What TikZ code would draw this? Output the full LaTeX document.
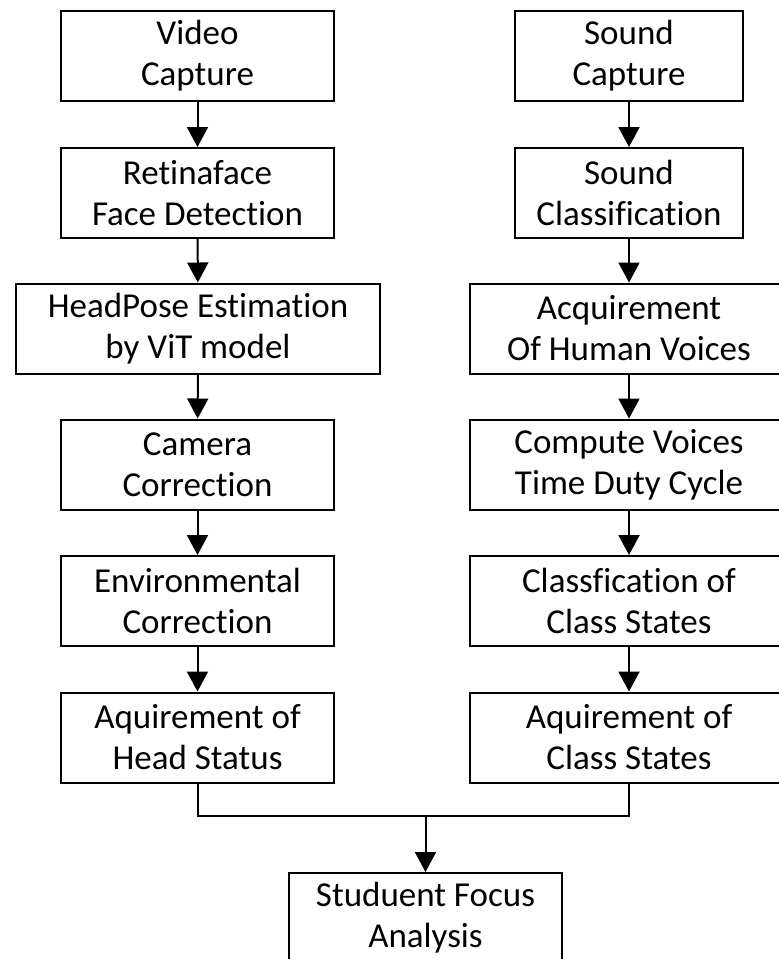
\documentclass[tikz,border=0pt]{standalone}
\usepackage{fontspec}
\setmainfont[Ligatures=NoCommon]{Carlito}
\usepackage{tikz}
\usetikzlibrary{arrows.meta,positioning}

\begin{document}
\begin{tikzpicture}[x=1pt,y=-1pt,line width=2pt,
  >={Triangle[length=20pt,width=21pt]},
  stage/.style={draw,align=center,font=\fontsize{35}{41}\selectfont,inner sep=0pt,minimum width=273pt,minimum height=90pt}
]
  \clip (0,0) rectangle (779,959);

  % video branch
  \node[stage] (video) at (197.5,56) {Video\\Capture};
  \node[stage] (face) at (197.5,193) {Retinaface\\Face Detection};
  \node[stage,minimum width=364pt] (pose) at (198,328.5) {HeadPose Estimation\\by ViT model};
  \node[stage] (camera) at (197.5,464.5) {Camera\\Correction};
  \node[stage] (env) at (197.5,601) {Environmental\\Correction};
  \node[stage] (head) at (197.5,737.5) {Aquirement of\\Head Status};

  % sound branch
  \node[stage,minimum width=228pt] (sound) at (629,56) {Sound\\Capture};
  \node[stage,minimum width=228pt] (soundcls) at (629,193) {Sound\\Classification};
  \node[stage,minimum width=318pt] (voices) at (629,328.5) {Acquirement\\Of Human Voices};
  \node[stage,minimum width=318pt] (duty) at (629,464.5) {Compute Voices\\Time Duty Cycle};
  \node[stage,minimum width=318pt] (states) at (629,601) {Classfication of\\Class States};
  \node[stage,minimum width=318pt] (classst) at (629,737.5) {Aquirement of\\Class States};

  \node[stage] (focus) at (425.5,918) {Studuent Focus\\Analysis};

  \draw[->] (video) -- (face);
  \draw[->] (face) -- (pose);
  \draw[->] (pose) -- (camera);
  \draw[->] (camera) -- (env);
  \draw[->] (env) -- (head);

  \draw[->] (sound) -- (soundcls);
  \draw[->] (soundcls) -- (voices);
  \draw[->] (voices) -- (duty);
  \draw[->] (duty) -- (states);
  \draw[->] (states) -- (classst);

  \coordinate (merge) at (425.5,816);
  \draw (head.south) |- (merge);
  \draw (classst.south) |- (merge);
  \draw[->] (merge) -- (focus);
\end{tikzpicture}
\end{document}
